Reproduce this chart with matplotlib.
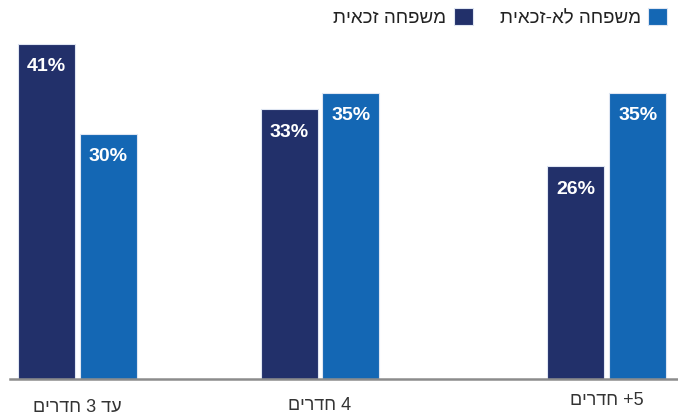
import re
import numpy as np
import matplotlib
matplotlib.use("Agg")
import matplotlib.pyplot as plt

# ---- data ----
categories = ["עד 3 חדרים", "4 חדרים", "5+ חדרים"]
series_names = ["משפחה זכאית", "משפחה לא-זכאית"]
eligible = [41, 33, 26]
not_eligible = [30, 35, 35]

# ---- style / layout ----
colors = ["#22306a", "#1467b4"]
group_pos = [0.0, 1.0, 2.18]          # uneven group spacing as in reference
label_drop_pt = [20.5, 19, 15.5]      # staggered category label offsets
FONT = ["Liberation Sans", "DejaVu Sans"]


def visual(s):
    """Very small bidi: reverse Hebrew, keep digit runs left-to-right."""
    r = s[::-1]
    return re.sub(r"[0-9]+", lambda m: m.group(0)[::-1], r)


plt.rcParams["font.family"] = FONT

fig = plt.figure(figsize=(6.78, 4.19), dpi=100)
W, H = 678, 419
ax = fig.add_axes([10 / W, (H - 379) / H, (678 - 10) / W, 379 / H])

bw = 57 / 243.0
gap = 5 / 243.0
x = np.array(group_pos)
xs = [x - (bw + gap) / 2, x + (bw + gap) / 2]
for vals, xx, c, name in zip([eligible, not_eligible], xs, colors, series_names):
    bars = ax.bar(xx, vals, width=bw, color=c, edgecolor="#dfe6f2",
                  linewidth=0.8, label=visual(name), zorder=2)
    for b, v in zip(bars, vals):
        ax.annotate(f"{v}%", xy=(b.get_x() + b.get_width() / 2, v),
                    xytext=(0, -10.5), textcoords="offset points",
                    ha="center", va="top", color="white",
                    fontsize=14, fontweight="bold", zorder=3)

ax.set_xlim(-(77 - 10) / 243.0, (678 - 77) / 243.0)
ax.set_ylim(0, 379 / 8.18)

for s in ["top", "right", "left"]:
    ax.spines[s].set_visible(False)
ax.spines["bottom"].set_color("#8c8c8c")
ax.spines["bottom"].set_linewidth(1.8)
ax.spines["bottom"].set_zorder(4)
ax.set_yticks([])
ax.set_xticks([])

for gx, cat, d in zip(group_pos, categories, label_drop_pt):
    ax.annotate(visual(cat), xy=(gx, 0), xycoords=("data", "axes fraction"),
                xytext=(0, -d), textcoords="offset points",
                ha="center", va="center", fontsize=13, color="#333333")

leg = ax.legend(loc="upper right", bbox_to_anchor=(667 / W, 1 - 8 / H),
                bbox_transform=fig.transFigure, ncol=2, frameon=False,
                markerfirst=False, fontsize=13.5, handlelength=1.0,
                handleheight=1.0, handletextpad=0.4, columnspacing=1.45,
                borderpad=0, borderaxespad=0)
for t in leg.get_texts():
    t.set_color("#222222")

fig.savefig("out.png", dpi=100)
